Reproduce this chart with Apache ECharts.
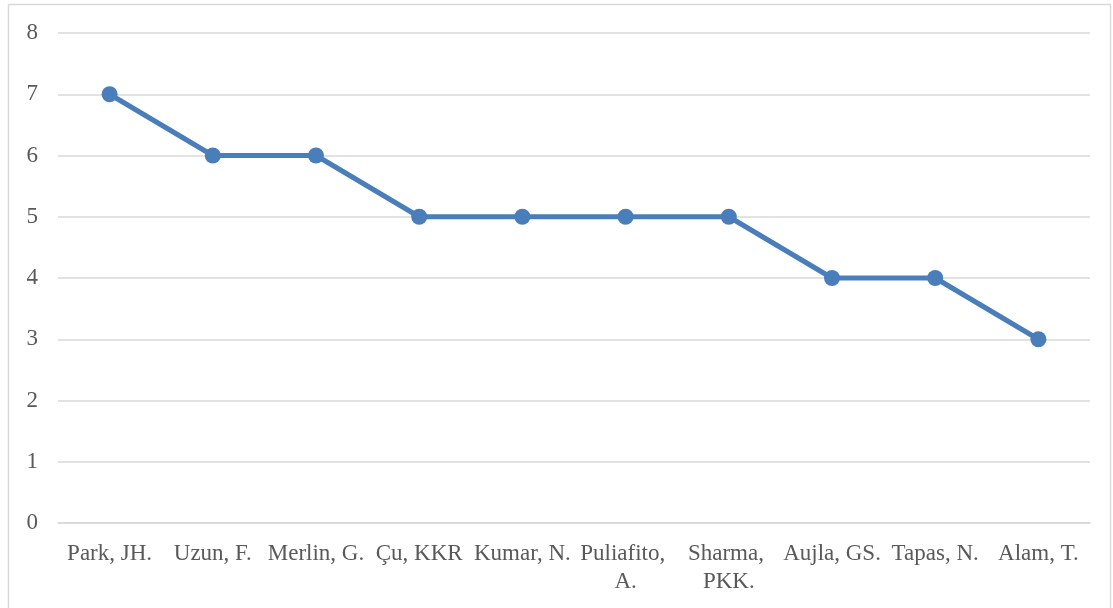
<!DOCTYPE html>
<html>
<head>
<meta charset="utf-8">
<script src="https://cdn.jsdelivr.net/npm/echarts@6/dist/echarts.min.js"></script>
<style>
  html, body { margin: 0; padding: 0; background: #fff; }
  #chart { width: 1113px; height: 608px; }
</style>
</head>
<body>
<div id="chart"></div>
<script>
// Authors and their counts
const authors = ['Park, JH.', 'Uzun, F.', 'Merlin, G.', 'Çu, KKR', 'Kumar, N.', 'Puliafito, A.', 'Sharma, PKK.', 'Aujla, GS.', 'Tapas, N.', 'Alam, T.'];
const counts = [7, 6, 6, 5, 5, 5, 5, 4, 4, 3];
const yTicks = [0, 1, 2, 3, 4, 5, 6, 7, 8];

const chart = echarts.init(document.getElementById('chart'), null, { renderer: 'canvas' });
const textFont = 'Liberation Serif, Times New Roman, serif';

chart.setOption({
  animation: false,
  backgroundColor: '#ffffff',
  graphic: [{
    type: 'rect',
    shape: { x: 8.5, y: 4.5, width: 1102, height: 640 },
    style: { fill: 'none', stroke: '#d9d9d9', lineWidth: 1.5 },
    silent: true
  }],
  grid: { left: 58, right: 23, top: 33, bottom: 85, containLabel: false },
  xAxis: {
    type: 'category',
    data: authors,
    boundaryGap: true,
    axisLine: { show: true, lineStyle: { color: '#d9d9d9', width: 1.5 } },
    axisTick: { show: false },
    axisLabel: {
      color: '#595959',
      fontFamily: textFont,
      fontSize: 23,
      margin: 17,
      lineHeight: 28,
      interval: 0,
      width: 112,
      overflow: 'break'
    }
  },
  yAxis: {
    type: 'value',
    min: yTicks[0],
    max: yTicks[yTicks.length - 1],
    interval: 1,
    axisLine: { show: false },
    axisTick: { show: false },
    splitLine: { lineStyle: { color: '#d9d9d9', width: 1.5 } },
    axisLabel: {
      color: '#595959',
      fontFamily: textFont,
      fontSize: 23,
      margin: 20
    }
  },
  series: [{
    type: 'line',
    data: counts,
    symbol: 'circle',
    symbolSize: 16,
    lineStyle: { color: '#4a7ebb', width: 5 },
    itemStyle: { color: '#4a7ebb' }
  }]
});
</script>
</body>
</html>
